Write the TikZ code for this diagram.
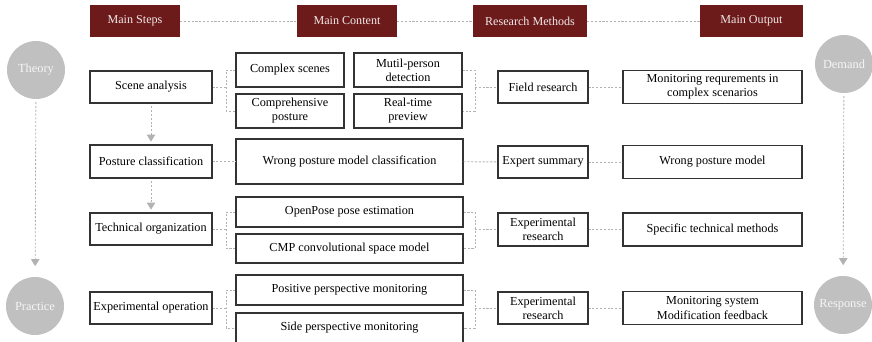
\documentclass[tikz,border=0pt]{standalone}
\usepackage{fontspec}
\setmainfont{Liberation Serif}
\usetikzlibrary{arrows.meta, positioning, calc}
\definecolor{HeadRed}{RGB}{108, 26, 26}
\definecolor{CircGray}{RGB}{192, 192, 192}
\definecolor{LinkGray}{RGB}{178, 178, 178}

\begin{document}
\begin{tikzpicture}[x=0.025cm, y=-0.025cm,
        head/.style={rectangle, fill=HeadRed, text=white!90!HeadRed, minimum height=0.8cm, inner sep=1pt, font=\fontsize{8.6}{10}\selectfont},
        box/.style={draw=black!80, line width=0.8pt, rectangle, minimum height=0.8cm, inner sep=1pt, align=center, font=\fontsize{8.7}{10}\selectfont},
        circ/.style={circle, fill=CircGray, minimum size=1.45cm, inner sep=0pt, text=white!85!CircGray, font=\fontsize{8.8}{10}\selectfont},
        link/.style={draw=LinkGray, line width=0.6pt, dash pattern=on 1.5pt off 1.2pt},
        arrow/.style={link, -{Triangle[width=6pt, length=5pt]}, shorten <=2pt, shorten >=2pt}]

        \useasboundingbox (0,0) rectangle (872,341);

        % Header
        \node[head, minimum width=2.25cm] (hsteps) at (135,21) {Main Steps};
        \node[head, minimum width=2.5cm] (hcontent) at (347,21) {Main Content};
        \node[head, minimum width=2.85cm] (hmethods) at (530,21) {Research Methods};
        \node[head, minimum width=2.575cm] (houtput) at (751.5,21) {Main Output};

        \draw[link] (hsteps) -- (hcontent);
        \draw[link] (hcontent) -- (hmethods);
        \draw[link] (hmethods) -- (houtput);

        % Circles
        \node[circ] (theory) at (36,70) {Theory};
        \node[circ] (practice) at (35,306) {Practice};
        \node[circ] (demand) at (844,64) {Demand};
        \node[circ] (response) at (843,305) {Response};

        \draw[arrow, shorten >=7.5pt] (theory) -- (practice);
        \draw[arrow, shorten >=7.5pt] (demand) -- (response);

        % Main steps
        \node[box, minimum width=3.05cm] (scene) at (151,87) {Scene analysis};
        \node[box, minimum width=3.05cm, minimum height=0.825cm] (posture) at (151,161.5) {Posture classification};
        \node[box, minimum width=3.05cm] (tech) at (151,229) {Technical organization};
        \node[box, minimum width=3.05cm] (exper) at (151,308) {Experimental operation};

        \draw[arrow] (scene) -- (posture);
        \draw[arrow] (posture) -- (tech);

        % Row 1
        \node[box, minimum width=2.7cm, minimum height=0.85cm] (complex) at (290,70) {Complex scenes};
        \node[box, minimum width=2.7cm, minimum height=0.85cm] (multi) at (408,70) {Mutil-person\\detection};
        \node[box, minimum width=2.7cm, minimum height=0.85cm] (compre) at (290,111) {Comprehensive\\posture};
        \node[box, minimum width=2.7cm, minimum height=0.85cm] (realtime) at (408,111) {Real-time\\preview};
        \node[box, minimum width=2.25cm] (field) at (543,87) {Field research};
        \node[box, minimum width=4.475cm, minimum height=0.825cm] (out1) at (712.5,87) {Monitoring requrements in\\complex scenarios};

        \coordinate (b1l) at (226,87);
        \coordinate (b1r) at (475,87);
        \draw[link] (scene) -- (b1l);
        \draw[link] (complex.west) -| (b1l) |- (compre.west);
        \draw[link] (multi.east) -| (b1r) |- (realtime.east);
        \draw[link] (b1r) -- (field);
        \draw[link] (field) -- (out1);

        % Row 2
        \node[box, minimum width=5.675cm, minimum height=1.125cm] (wrongcls) at (349.5,161.5) {Wrong posture model classification};
        \node[box, minimum width=2.25cm] (expert) at (543,162) {Expert summary};
        \node[box, minimum width=4.475cm, minimum height=0.825cm] (out2) at (712.5,162) {Wrong posture model};

        \draw[link] (posture) -- (wrongcls);
        \draw[link] (wrongcls) -- (expert);
        \draw[link] (expert) -- (out2);

        % Row 3
        \node[box, minimum width=5.675cm, minimum height=0.75cm] (openpose) at (349.5,212) {OpenPose pose estimation};
        \node[box, minimum width=5.675cm, minimum height=0.725cm] (cmp) at (349.5,248.5) {CMP convolutional space model};
        \node[box, minimum width=2.25cm, minimum height=0.825cm] (expres1) at (543,229.5) {Experimental\\research};
        \node[box, minimum width=4.475cm, minimum height=0.825cm] (out3) at (712.5,229.5) {Specific technical methods};

        \coordinate (b3l) at (226,229);
        \coordinate (b3r) at (475,229.5);
        \draw[link] (tech) -- (b3l);
        \draw[link] (openpose.west) -| (b3l) |- (cmp.west);
        \draw[link] (openpose.east) -| (b3r) |- (cmp.east);
        \draw[link] (b3r) -- (expres1);
        \draw[link] (expres1) -- (out3);

        % Row 4
        \node[box, minimum width=5.675cm, minimum height=0.75cm] (positive) at (349.5,290) {Positive perspective monitoring};
        \node[box, minimum width=5.675cm, minimum height=0.75cm] (side) at (349.5,328) {Side perspective monitoring};
        \node[box, minimum width=2.25cm] (expres2) at (543,308) {Experimental\\research};
        \node[box, minimum width=4.475cm, minimum height=0.825cm] (out4) at (712.5,308) {Monitoring system\\Modification feedback};

        \coordinate (b4l) at (226,308);
        \coordinate (b4r) at (475,308);
        \draw[link] (exper) -- (b4l);
        \draw[link] (positive.west) -| (b4l) |- (side.west);
        \draw[link] (positive.east) -| (b4r) |- (side.east);
        \draw[link] (b4r) -- (expres2);
        \draw[link] (expres2) -- (out4);

    \end{tikzpicture}
\end{document}
